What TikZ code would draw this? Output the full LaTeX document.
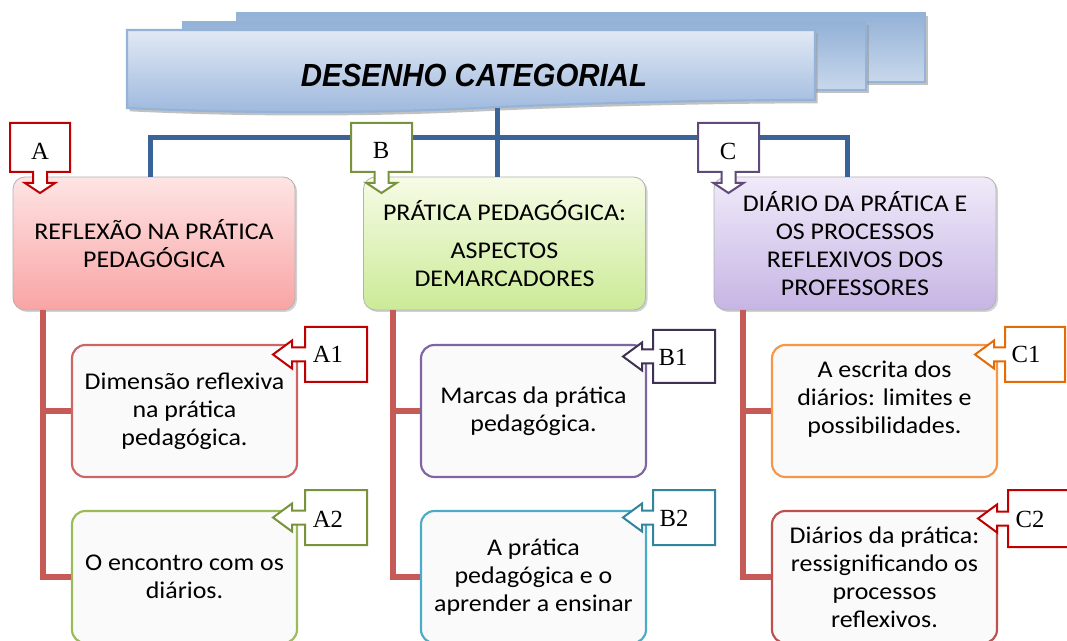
\documentclass[tikz,border=0pt]{standalone}
\usepackage{fontspec}
\setmainfont{Carlito}[FakeStretch=1.08]
\newfontfamily\serifL{Liberation Serif}
\newfontfamily\titleF{Liberation Sans}
\usetikzlibrary{shadows}
\definecolor{conblue}{HTML}{3A6397}
\definecolor{conred}{HTML}{C65A57}
\definecolor{bnborder}{HTML}{95B3D7}
\definecolor{bnA}{HTML}{93B1D7}
\definecolor{bnB}{HTML}{C9D8EC}
\definecolor{bnC}{HTML}{E1E9F4}
\definecolor{bnD}{HTML}{9DB8DD}
\definecolor{aTop}{HTML}{FEE4E4}
\definecolor{aBot}{HTML}{F9A4A4}
\definecolor{bTop}{HTML}{F6FBE6}
\definecolor{bBot}{HTML}{CBEB97}
\definecolor{cTop}{HTML}{F0EAF9}
\definecolor{cBot}{HTML}{C6B5E4}
\definecolor{calA}{HTML}{C00000}
\definecolor{calB}{HTML}{77933C}
\definecolor{calC}{HTML}{604A7B}
\definecolor{calBa}{HTML}{3F3151}
\definecolor{calBb}{HTML}{31859C}
\definecolor{calCa}{HTML}{E36C09}
\definecolor{subA}{HTML}{CC6666}
\definecolor{subAb}{HTML}{9BBB59}
\definecolor{subB}{HTML}{8064A2}
\definecolor{subBb}{HTML}{4BACC6}
\definecolor{subC}{HTML}{F79646}
\definecolor{subCb}{HTML}{C0504D}
\newcommand\bxfont{\fontsize{18pt}{21pt}\selectfont}
\newcommand\downcall[3]{%
  \pgfmathsetmacro\dcx{(#1+#2)/2}%
  \draw[callout,draw=#3] (#1,123) -- (#2,123) -- (#2,172) -- ({\dcx+7},172) -- ({\dcx+7},183) -- ({\dcx+15},183) -- (\dcx,193) -- ({\dcx-15},183) -- ({\dcx-7},183) -- ({\dcx-7},172) -- (#1,172) -- cycle;}
\newcommand\leftcall[6]{%
  \pgfmathsetmacro\lcy{(#2+#3)/2}%
  \pgfmathsetmacro\lhx{#5+19}%
  \draw[callout,draw=#6] (#4,#2) -- (#4,#3) -- (#1,#3) -- (#1,{\lcy+7}) -- (\lhx,{\lcy+7}) -- (\lhx,{\lcy+14}) -- (#5,\lcy) -- (\lhx,{\lcy-14}) -- (\lhx,{\lcy-7}) -- (#1,{\lcy-7}) -- (#1,#2) -- cycle;}
\begin{document}
\begin{tikzpicture}[x=0.75pt,y=-0.75pt,
  mainbox/.style={rounded corners=9pt, draw=gray!60, line width=0.6pt,
    minimum width=211.5pt, minimum height=99.75pt, align=center, font=\bxfont,
    drop shadow={opacity=0.35,shadow xshift=1.5pt,shadow yshift=-1.5pt}},
  subbox/.style={rounded corners=10pt, line width=1.6pt, fill=black!2,
    minimum width=168.75pt, minimum height=99pt, align=center, font=\bxfont},
  callout/.style={fill=white, line width=1.5pt, line join=miter},
  lbl/.style={font=\serifL\fontsize{18.5pt}{20pt}\selectfont},
  bluecon/.style={draw=conblue, line width=3.75pt},
  redcon/.style={draw=conred, line width=4.5pt},
  banner/.style={draw=bnborder, line width=1.6pt,
    drop shadow={fill=gray!80, opacity=0.6, shadow xshift=2pt, shadow yshift=-2.5pt}}
  ]
\clip (0,0) rectangle (1067,641);
\fill[white] (0,0) rectangle (1067,641);
% banners
\path[banner, top color=bnA, bottom color=bnB] (237,13) rectangle (925,82);
\path[banner, top color=bnA, bottom color=bnB] (183,22) rectangle (866,90);
\path[banner, top color=bnC, bottom color=bnD]
  (127,30) -- (815,30) -- (815,100) .. controls (700,100) and (560,104) .. (480,108)
  .. controls (380,113) and (250,114) .. (127,108) -- cycle;
\node (title) at (474,75) {\titleF\fontsize{24pt}{28pt}\selectfont\bfseries\itshape\scalebox{0.92}[1]{DESENHO CATEGORIAL}};
% main boxes
\node[mainbox, top color=aTop, bottom color=aBot] (A) at (154,243.5) {REFLEXÃO NA PRÁTICA\\PEDAGÓGICA};
\node[mainbox, top color=bTop, bottom color=bBot] (B) at (504.5,243.5) {PRÁTICA PEDAGÓGICA:\\[7pt]ASPECTOS\\DEMARCADORES};
\node[mainbox, top color=cTop, bottom color=cBot] (C) at (855,243.5) {DIÁRIO DA PRÁTICA E\\OS PROCESSOS\\REFLEXIVOS DOS\\PROFESSORES};
% blue connectors
\coordinate (bb) at (497,108);
\coordinate (busL) at (150,138);
\coordinate (busM) at (497,138);
\coordinate (busR) at (847,138);
\draw[bluecon] (busL |- A.north) -- (busL) -- (busR) -- (busR |- C.north);
\draw[bluecon] (bb) -- (bb |- B.north);
% sub boxes
\node[subbox, draw=subA] (A1) at (184.5,411) {Dimensão reflexiva\\na prática\\pedagógica.};
\node[subbox, draw=subAb] (A2) at (184.5,577) {O encontro com os\\diários.};
\node[subbox, draw=subB] (B1) at (533.5,411) {Marcas da prática\\pedagógica.};
\node[subbox, draw=subBb] (B2) at (533.5,577) {A prática\\pedagógica e o\\aprender a ensinar};
\node[subbox, draw=subC] (C1) at (884.5,411) {A escrita dos\\diários: limites e\\possibilidades.\\\mbox{}};
\node[subbox, draw=subCb] (C2) at (884.5,577) {Diários da prática:\\ressignificando os\\processos\\reflexivos.};
% red trunks
\coordinate (tA) at (43,0);
\coordinate (tB) at (393,0);
\coordinate (tC) at (743,0);
\draw[redcon] (tA |- A.south) -- (tA |- A2.west) -- (A2.west);
\draw[redcon] (tA |- A1.west) -- (A1.west);
\draw[redcon] (tB |- B.south) -- (tB |- B2.west) -- (B2.west);
\draw[redcon] (tB |- B1.west) -- (B1.west);
\draw[redcon] (tC |- C.south) -- (tC |- C2.west) -- (C2.west);
\draw[redcon] (tC |- C1.west) -- (C1.west);
% down callouts
\downcall{10}{70}{calA}
\downcall{351}{412}{calB}
\downcall{698}{759}{calC}
\node[lbl] (labA) at (40,151) {A};
\node[lbl] (labB) at (381,150) {B};
\node[lbl] (labC) at (728,151) {C};
% left callouts
\leftcall{305}{327}{382}{367}{273}{calA}
\leftcall{305}{490}{545}{367}{273}{calB}
\leftcall{653}{330}{383}{715}{623}{calBa}
\leftcall{653}{490}{545}{715}{623}{calBb}
\leftcall{1005}{327}{382}{1065}{975}{calCa}
\leftcall{1008}{490}{547}{1080}{978}{calA}
\node[lbl] (labA1) at (328,354) {A1};
\node[lbl] (labA2) at (328,519) {A2};
\node[lbl] (labB1) at (673,357) {B1};
\node[lbl] (labB2) at (674,518) {B2};
\node[lbl] (labC1) at (1026,354) {C1};
\node[lbl] (labC2) at (1030,519) {C2};
\end{tikzpicture}
\end{document}
